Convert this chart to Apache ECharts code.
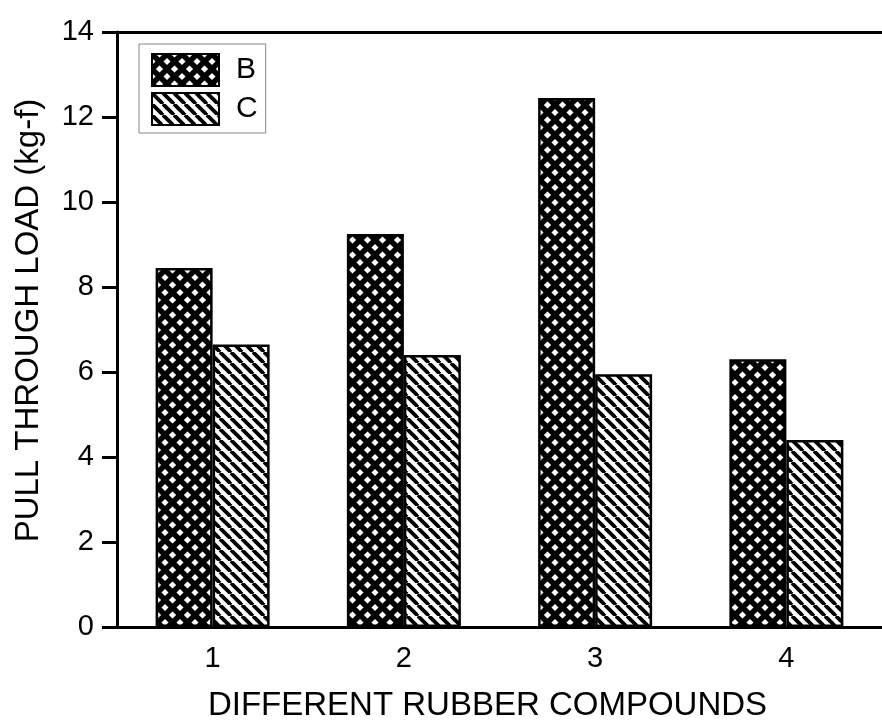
<!DOCTYPE html>
<html>
<head>
<meta charset="utf-8">
<script src="https://cdn.jsdelivr.net/npm/echarts@6/dist/echarts.min.js"></script>
<style>html,body{margin:0;padding:0;background:#fff;}#c{width:882px;height:721px;}</style>
</head>
<body>
<div id="c"></div>
<script>
const categories = ['1', '2', '3', '4'];
const seriesNames = ['B', 'C'];
const valuesB = [8.45, 9.25, 12.45, 6.3];
const valuesC = [6.65, 6.4, 5.95, 4.4];
const yTicks = { min: 0, max: 14, interval: 2 };

function crossPattern() {
  const s = 15, c = document.createElement('canvas');
  c.width = s; c.height = s;
  const g = c.getContext('2d');
  g.fillStyle = '#fff'; g.fillRect(0, 0, s, s);
  g.strokeStyle = '#000'; g.lineWidth = 5.5;
  for (const x0 of [-s, 0, s]) {
    g.beginPath(); g.moveTo(x0, 0); g.lineTo(x0 + s, s); g.stroke();
    g.beginPath(); g.moveTo(x0, s); g.lineTo(x0 + s, 0); g.stroke();
  }
  return c;
}
function stripePattern() {
  const s = 11, c = document.createElement('canvas');
  c.width = s; c.height = s;
  const g = c.getContext('2d');
  g.fillStyle = '#fff'; g.fillRect(0, 0, s, s);
  g.strokeStyle = '#000'; g.lineWidth = 3.8;
  for (const x0 of [-s, 0, s]) {
    g.beginPath(); g.moveTo(x0, 0); g.lineTo(x0 + s, s); g.stroke();
  }
  return c;
}

const font = 'Liberation Sans, Arial, sans-serif';
const chart = echarts.init(document.getElementById('c'), null, { renderer: 'canvas' });
chart.setOption({
  animation: false,
  backgroundColor: '#fff',
  grid: { left: 117, right: 0, top: 32, bottom: 94, outerBoundsMode: 'none', containLabel: false },
  legend: {
    orient: 'vertical', left: 139, top: 44,
    itemWidth: 67, itemHeight: 32, itemGap: 5,
    padding: [9, 8, 7, 12],
    borderColor: '#888', borderWidth: 1,
    icon: 'rect',
    textStyle: { fontFamily: font, fontSize: 30, color: '#000', padding: [0, 0, 0, 12] },
    data: seriesNames
  },
  xAxis: [{
    type: 'category', data: categories,
    axisLine: { lineStyle: { color: '#000', width: 3 } },
    axisTick: { show: false },
    axisLabel: { fontFamily: font, fontSize: 29, color: '#000', margin: 17 },
    name: 'DIFFERENT RUBBER COMPOUNDS', nameLocation: 'middle', nameGap: 62,
    nameTextStyle: { fontFamily: font, fontSize: 33, color: '#000', padding: [0, 24, 0, 0] }
  }, {
    type: 'category', data: categories, position: 'top',
    axisLine: { lineStyle: { color: '#000', width: 3 } },
    axisTick: { show: false }, axisLabel: { show: false }
  }],
  yAxis: {
    type: 'value', min: yTicks.min, max: yTicks.max, interval: yTicks.interval,
    splitLine: { show: false },
    axisLine: { show: true, lineStyle: { color: '#000', width: 3 } },
    axisTick: { show: true, length: 15, lineStyle: { color: '#000', width: 3 } },
    axisLabel: { fontFamily: font, fontSize: 29, color: '#000', margin: 23 },
    name: 'PULL THROUGH LOAD (kg-f)', nameLocation: 'middle', nameGap: 72,
    nameTextStyle: { fontFamily: font, fontSize: 33, color: '#000', padding: [0, 0, 0, 18] }
  },
  series: [{
    name: seriesNames[0], type: 'bar', data: valuesB, barWidth: 57, barGap: '0%',
    itemStyle: { color: { image: crossPattern(), repeat: 'repeat' }, borderColor: '#000', borderWidth: 2.5 }
  }, {
    name: seriesNames[1], type: 'bar', data: valuesC, barWidth: 57, barGap: '0%',
    itemStyle: { color: { image: stripePattern(), repeat: 'repeat' }, borderColor: '#000', borderWidth: 2.5 }
  }]
});
</script>
</body>
</html>
